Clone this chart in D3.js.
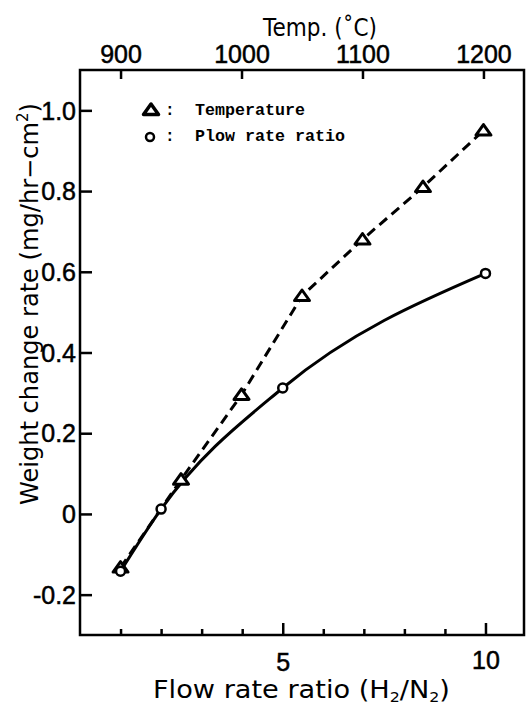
<!DOCTYPE html>
<html>
<head>
<meta charset="utf-8">
<script src="https://cdn.jsdelivr.net/npm/d3@7"></script>
<style>
  body { margin: 0; background: #fff; }
  svg { display: block; }
  .axis text { font-family: "Liberation Sans Narrow", "Liberation Sans", sans-serif; font-size: 25px; fill: #000; stroke: #000; stroke-width: 0.5; }
  .axis line { stroke: #000; stroke-width: 2.5; }
  .title { font-family: "DejaVu Sans", sans-serif; font-size: 24px; fill: #000; }
  .legend text { font-family: "Liberation Mono", "DejaVu Sans Mono", monospace; font-weight: bold; font-size: 16px; fill: #000; }
</style>
</head>
<body>
<svg width="526" height="708"></svg>
<script>
// data
var flowTicks = [1, 2, 3, 4, 5, 6, 7, 8, 9, 10];
var flowLabels = [5, 10];
var tempTicks = [900, 1000, 1100, 1200];
var rateTicks = [-0.2, 0, 0.2, 0.4, 0.6, 0.8, 1.0];
var rateLabels = ["-0.2", "0", "0.2", "0.4", "0.6", "0.8", "1.0"];

var tempC = [900, 950, 1000, 1050, 1100, 1150, 1200];
var tempRate = [-0.133, 0.085, 0.295, 0.54, 0.68, 0.81, 0.95];

var flowRatio = [1, 2, 5, 10];
var flowRate = [-0.142, 0.012, 0.312, 0.596];

var svg = d3.select("svg"),
    margin = {top: 70, right: 2, bottom: 73, left: 80},
    width = +svg.attr("width") - margin.left - margin.right,
    height = +svg.attr("height") - margin.top - margin.bottom;

var x = d3.scaleLinear().domain([0, 10.95]).range([margin.left, margin.left + width]);
var y = d3.scaleLinear().domain([-0.3, 1.1]).range([margin.top + height, margin.top]);
// top temperature axis (900 sits over ratio 1, 1200 just left of ratio 10)
var t = d3.scaleLinear().domain([900, 1200]).range([x(1), x(9.95)]);

// frame
svg.append("rect")
    .attr("x", x(0)).attr("y", y(1.1))
    .attr("width", x(10.95) - x(0)).attr("height", y(-0.3) - y(1.1))
    .attr("fill", "none").attr("stroke", "#000").attr("stroke-width", 2.5);

// bottom axis, ticks pointing inward
var gx = svg.append("g")
    .attr("class", "axis")
    .attr("transform", "translate(0," + y(-0.3) + ")")
    .call(d3.axisBottom(x).tickValues(flowTicks).tickSize(-6).tickFormat(""));
gx.select(".domain").remove();
gx.selectAll(".tick line").attr("y2", d => flowLabels.includes(d) ? -12 : -6);
gx.selectAll(".tick").filter(d => flowLabels.includes(d)).append("text")
    .attr("y", d => d === 5 ? 36 : 34)
    .attr("text-anchor", "middle")
    .text(d => d);

// top axis
var gt = svg.append("g")
    .attr("class", "axis")
    .attr("transform", "translate(0," + y(1.1) + ")")
    .call(d3.axisTop(t).tickValues(tempTicks).tickSize(-9).tickFormat(""));
gt.select(".domain").remove();
gt.selectAll(".tick").append("text")
    .attr("y", -7)
    .attr("text-anchor", "middle")
    .text(d => d);

// left axis
var gy = svg.append("g")
    .attr("class", "axis")
    .attr("transform", "translate(" + x(0) + ",0)")
    .call(d3.axisLeft(y).tickValues(rateTicks).tickSize(-12).tickFormat(""));
gy.select(".domain").remove();
gy.selectAll(".tick").append("text")
    .attr("x", -4)
    .attr("dy", "0.35em")
    .attr("text-anchor", "end")
    .text((d, i) => rateLabels[i]);

// axis titles
svg.append("text")
    .attr("class", "title")
    .attr("x", 263).attr("y", 36)
    .attr("textLength", 114).attr("lengthAdjust", "spacingAndGlyphs")
    .text("Temp. (\u02DAC)");

var xt = svg.append("text")
    .attr("class", "title")
    .attr("x", 153).attr("y", 698)
    .attr("textLength", 297).attr("lengthAdjust", "spacingAndGlyphs");
xt.append("tspan").text("Flow rate ratio (H");
xt.append("tspan").attr("font-size", 14).attr("dy", 4).text("2");
xt.append("tspan").attr("dy", -4).text("/N");
xt.append("tspan").attr("font-size", 14).attr("dy", 4).text("2");
xt.append("tspan").attr("dy", -4).text(")");

var yt = svg.append("text")
    .attr("class", "title")
    .attr("font-size", 26)
    .attr("transform", "translate(38,505) rotate(-90)")
    .attr("textLength", 402).attr("lengthAdjust", "spacingAndGlyphs");
yt.append("tspan").text("Weight change rate (mg/hr\u2212cm");
yt.append("tspan").attr("font-size", 15).attr("dy", -10).text("2");
yt.append("tspan").attr("dy", 10).text(")");

// lines
var tempPts = tempC.map((d, i) => [t(d), y(tempRate[i])]);
var flowPts = flowRatio.map((d, i) => [x(d), y(flowRate[i])]);

svg.append("path")
    .attr("d", d3.line().curve(d3.curveMonotoneX)(flowPts))
    .attr("fill", "none").attr("stroke", "#000").attr("stroke-width", 3);

svg.append("path")
    .attr("d", d3.line()(tempPts))
    .attr("fill", "none").attr("stroke", "#000").attr("stroke-width", 3)
    .attr("stroke-dasharray", "10,6");

// markers: flat open triangle, small open circle
var tri = "M0,-6L7.5,4.5L-7.5,4.5Z";
svg.selectAll(".tri")
    .data(tempPts)
    .enter().append("path")
    .attr("class", "tri")
    .attr("transform", d => "translate(" + d[0] + "," + d[1] + ")")
    .attr("d", tri)
    .attr("fill", "#fff").attr("stroke", "#000").attr("stroke-width", 3)
    .attr("stroke-linejoin", "round");

svg.selectAll(".dot")
    .data(flowPts)
    .enter().append("circle")
    .attr("class", "dot")
    .attr("cx", d => d[0]).attr("cy", d => d[1])
    .attr("r", 4.5)
    .attr("fill", "#fff").attr("stroke", "#000").attr("stroke-width", 2.5);

// legend
var lg = svg.append("g").attr("class", "legend");
lg.append("path")
    .attr("transform", "translate(151,110)")
    .attr("d", tri)
    .attr("fill", "#fff").attr("stroke", "#000").attr("stroke-width", 3.5)
    .attr("stroke-linejoin", "round");
lg.append("circle")
    .attr("cx", 150).attr("cy", 137).attr("r", 4)
    .attr("fill", "#fff").attr("stroke", "#000").attr("stroke-width", 2.5);
lg.append("text").attr("x", 165).attr("y", 115).text(":");
lg.append("text").attr("x", 165).attr("y", 141).text(":");
lg.append("text").attr("x", 195).attr("y", 115)
    .attr("textLength", 110).attr("lengthAdjust", "spacingAndGlyphs").text("Temperature");
lg.append("text").attr("x", 195).attr("y", 141)
    .attr("textLength", 150).attr("lengthAdjust", "spacingAndGlyphs").text("Plow rate ratio");
</script>
</body>
</html>
